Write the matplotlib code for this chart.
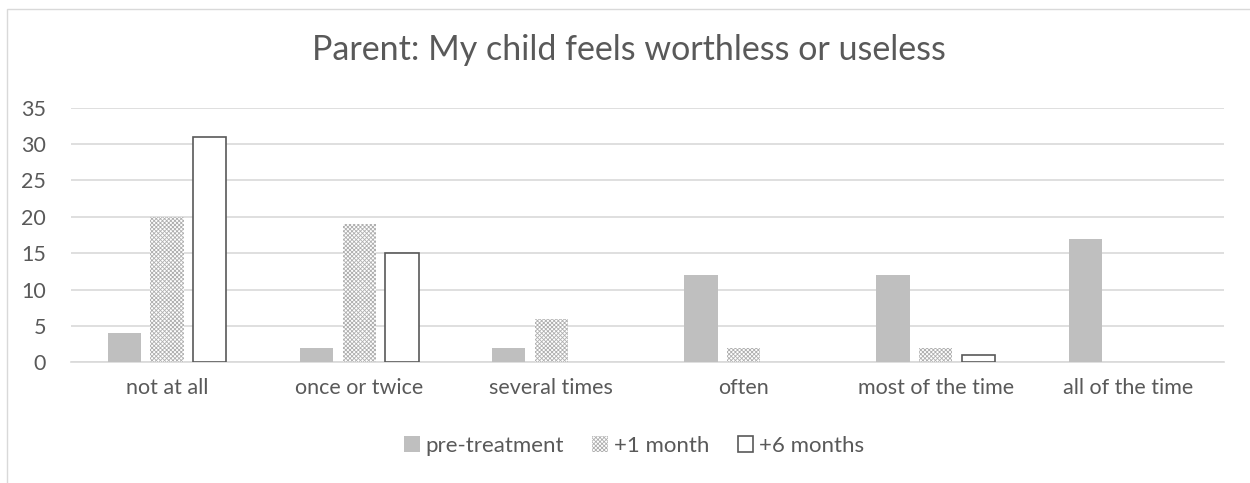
import numpy as np
import matplotlib.pyplot as plt
from matplotlib.patches import Rectangle

categories = ["not at all", "once or twice", "several times", "often",
              "most of the time", "all of the time"]
series_names = ["pre-treatment", "+1 month", "+6 months"]
pre_treatment = [4, 2, 2, 12, 12, 17]
one_month = [20, 19, 6, 2, 2, 0]
six_months = [31, 15, 0, 0, 1, 0]
y_ticks = [0, 5, 10, 15, 20, 25, 30, 35]

TEXT = "#595959"
GRID = "#d9d9d9"

plt.rcParams["font.family"] = ["Lato", "DejaVu Sans"]
plt.rcParams["hatch.linewidth"] = 0.6

fig = plt.figure(figsize=(12.5, 4.83), dpi=100)
ax = fig.add_axes([71 / 1250, 1 - 362.3 / 483, 1153 / 1250, 254.6 / 483])

# light chart-area border (clipped on the right/bottom like the source)
fig.patches.append(Rectangle((7 / 1250, -0.1), 1.2, 1 - 9 / 483 + 0.1,
                             transform=fig.transFigure, fill=False,
                             edgecolor=GRID, linewidth=1))

x = np.arange(len(categories))
w = 0.173
step = 0.222

ax.bar(x - step, pre_treatment, w, color="#bfbfbf", label=series_names[0], zorder=3)
ax.bar(x, one_month, w, color="white", edgecolor="#b0b0b0", hatch="xxxxxxxx",
       linewidth=0, label=series_names[1], zorder=3)
# Excel draws nothing for zero values, so drop the outline there
ax.bar(x + step, six_months, w, color="white", edgecolor="#595959",
       linewidth=[1.2 if v else 0 for v in six_months], label=series_names[2], zorder=3)

ax.set_xlim(-0.5, len(categories) - 0.5)
ax.set_ylim(0, 35)
ax.set_yticks(y_ticks)
ax.set_xticks(x)
ax.set_xticklabels(categories)
ax.tick_params(axis="both", length=0, labelsize=15.5, colors=TEXT)
ax.tick_params(axis="y", pad=18)
ax.tick_params(axis="x", pad=11)
ax.yaxis.grid(True, color=GRID, linewidth=1.2, zorder=0)
for s in ["top", "right", "left"]:
    ax.spines[s].set_visible(False)
ax.spines["bottom"].set_color(GRID)
ax.spines["bottom"].set_linewidth(1.2)

fig.text(629 / 1250, 1 - 50 / 483, "Parent: My child feels worthless or useless",
         ha="center", va="center", fontsize=24.5, color=TEXT)

leg = fig.legend(loc="center", bbox_to_anchor=(634 / 1250, 1 - 446 / 483), ncol=3,
                 frameon=False, fontsize=16, labelcolor=TEXT, handlelength=0.7,
                 handleheight=0.7, handletextpad=0.25, columnspacing=1.3)
leg.legend_handles[2].set_linewidth(1.2)

fig.savefig("out.png", dpi=100, facecolor="white")
